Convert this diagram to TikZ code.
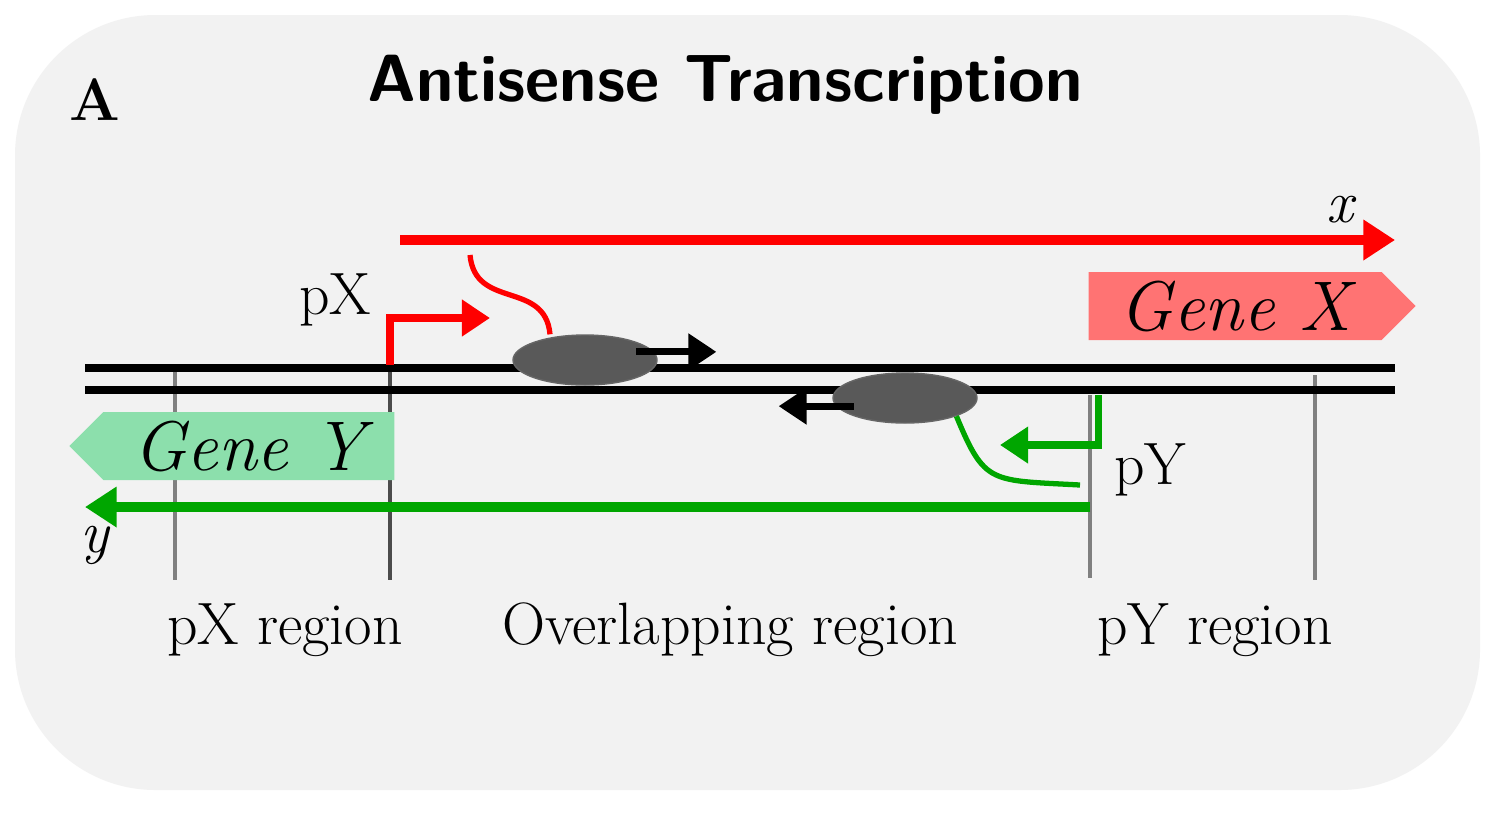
\documentclass[tikz,border=0pt]{standalone}
\usetikzlibrary{shapes.arrows,shapes.geometric,shapes.symbols,arrows.meta}
\begin{document}
\begin{tikzpicture}[
        x=1mm,y=-1mm,
        strand/.style={line width=2.3pt,black},
        guide/.style={gray,line width=1pt},
        transcript/.style={line width=2.8pt,-{Triangle[length=9pt,width=11pt]}},
        promoter/.style={line width=2pt,-{Triangle[length=8pt,width=10pt]}},
        rna/.style={line width=1.5pt},
        pol/.style={ellipse,draw=black!60,fill=black!65,minimum width=14.4mm,minimum height=5mm,inner sep=0pt},
        move/.style={line width=2pt,-{Triangle[length=8pt,width=10pt]}},
        lbl/.style={font=\fontsize{17}{17}\selectfont},
        gene/.style={signal,signal to=east,draw=none,font=\fontsize{20}{20}\selectfont\itshape,
                     minimum height=6.8mm,inner sep=0pt},
        ]
    \useasboundingbox (0,0) rectangle (150,81.4);
    \fill[white] (0,0) rectangle (150,81.4);
    \fill[black!5,rounded corners=40pt] (1.5,1.5) rectangle (148,79);
    % headings
    \node (title) at (72.5,8.5) {\fontsize{19}{19}\selectfont\sffamily\bfseries Antisense Transcription};
    \node (panel) at (9.5,10) {\fontsize{17}{17}\selectfont\bfseries A};
    % guides
    \draw[guide] (17.5,37) -- (17.5,58);
    \draw[guide,black!70] (39,36.8) -- (39,58);
    \draw[guide] (109,39.5) -- (109,57.8);
    \draw[guide] (131.5,37.5) -- (131.5,58);
    % dna
    \draw[strand] (8.5,36.8) -- (139.5,36.8);
    \draw[strand] (8.5,39) -- (139.5,39);
    % genes
    \node[gene,fill=red!55,minimum width=32.7mm,anchor=west] (gx) at (108.8,30.6) {Gene X};
    \node[gene,signal to=west,fill=green!45!teal!45,minimum width=32.5mm,anchor=east] (gy) at (39.5,44.6) {Gene Y};
    % transcripts
    \coordinate (xs) at (40,24);
    \coordinate (xe) at (139.5,24);
    \draw[transcript,red] (xs) -- (xe);
    \node[lbl,font=\fontsize{17}{17}\selectfont\itshape] (xl) at (134,21) {x};
    \coordinate (ys) at (109,50.7);
    \coordinate (ye) at (8.5,50.7);
    \draw[transcript,green!65!black] (ys) -- (ye);
    \node[lbl,font=\fontsize{17}{17}\selectfont\itshape] (yl) at (9.5,54.5) {y};
    % promoters
    \coordinate (px) at (39,36.5);
    \coordinate (pxe) at (49,31.8);
    \draw[promoter,red] (px) |- (pxe);
    \node[lbl] (pxl) at (33.5,30) {pX};
    \coordinate (py) at (109.8,39.5);
    \coordinate (pye) at (100,44.5);
    \draw[promoter,green!65!black] (py) |- (pye);
    \node[lbl] (pyl) at (115,47) {pY};
    % polymerases
    \node[pol] (p1) at (58.5,36) {};
    \node[pol] (p2) at (90.5,39.8) {};
    \draw[move] (p1.north east) ++(0,1) -- ++(8,0);
    \draw[move] (p2.south west) ++(0,-1) -- ++(-7.5,0);
    % rna
    \draw[rna,red] (p1.north) ++(-3.5,0) .. controls (54.5,28) and (47.5,31) .. (47,25.5);
    \draw[rna,green!65!black] (p2.south east) .. controls (98.5,48.5) and (99,48) .. (108,48.5);
    % region labels
    \node[lbl] (r1) at (28.5,63) {pX region};
    \node[lbl] (r2) at (73,63) {Overlapping region};
    \node[lbl] (r3) at (121.5,63) {pY region};
\end{tikzpicture}
\end{document}
